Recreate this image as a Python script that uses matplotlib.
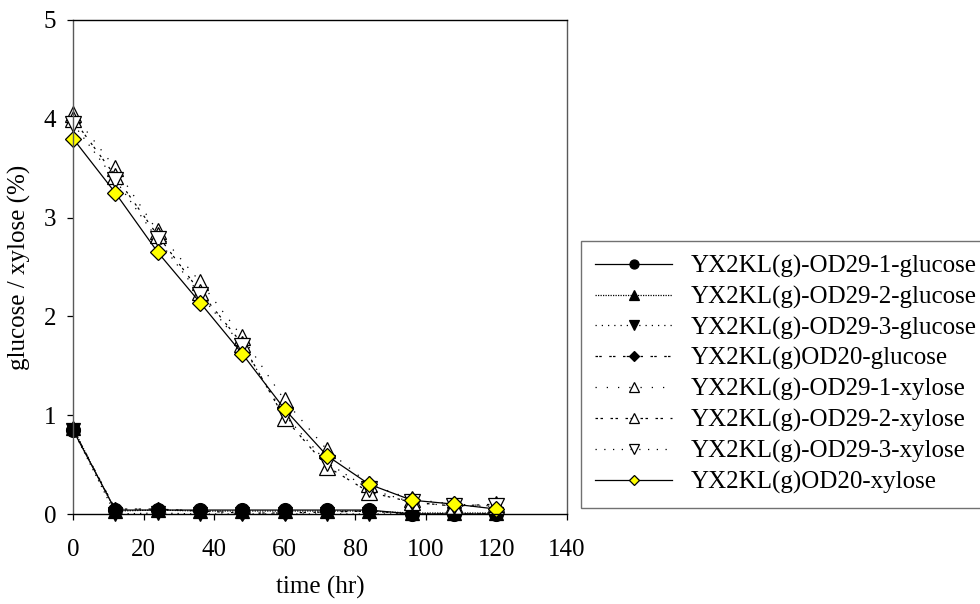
import matplotlib.pyplot as plt

plt.rcParams['font.family'] = ['Liberation Serif', 'DejaVu Serif']
plt.rcParams['font.size'] = 18

# sampling times (hr)
time_hr = [0, 12, 24, 36, 48, 60, 72, 84, 96, 108, 120]

# glucose (%)
od29_1_glucose = [0.85, 0.04, 0.04, 0.04, 0.04, 0.04, 0.04, 0.04, 0.00, 0.00, 0.00]
od29_2_glucose = [0.87, 0.03, 0.04, 0.03, 0.03, 0.03, 0.03, 0.03, 0.01, 0.01, 0.01]
od29_3_glucose = [0.85, 0.00, 0.01, 0.00, 0.00, 0.00, 0.00, 0.00, 0.00, 0.00, 0.00]
od20_glucose = [0.86, 0.05, 0.05, 0.03, 0.01, 0.01, 0.02, 0.03, 0.00, 0.00, 0.00]

# xylose (%)
od29_1_xylose = [4.05, 3.50, 2.86, 2.35, 1.79, 1.15, 0.65, 0.30, 0.15, 0.10, 0.08]
od29_2_xylose = [4.00, 3.42, 2.82, 2.25, 1.72, 0.97, 0.48, 0.22, 0.12, 0.08, 0.10]
od29_3_xylose = [3.95, 3.38, 2.78, 2.22, 1.70, 1.00, 0.52, 0.25, 0.12, 0.08, 0.08]
od20_xylose = [3.80, 3.25, 2.65, 2.14, 1.62, 1.06, 0.59, 0.30, 0.14, 0.10, 0.05]

series = [
    ('YX2KL(g)-OD29-1-glucose', od29_1_glucose, 'o', 'black', '-', 10),
    ('YX2KL(g)-OD29-2-glucose', od29_2_glucose, '^', 'black', (0, (1, 1)), 10),
    ('YX2KL(g)-OD29-3-glucose', od29_3_glucose, 'v', 'black', (0, (1, 4)), 10),
    ('YX2KL(g)OD20-glucose', od20_glucose, 'D', 'black', (0, (2, 1, 2, 6)), 7.2),
    ('YX2KL(g)-OD29-1-xylose', od29_1_xylose, '^', 'white', (0, (1, 8)), 11),
    ('YX2KL(g)-OD29-2-xylose', od29_2_xylose, '^', 'white', (0, (2, 2, 2, 6)), 11),
    ('YX2KL(g)-OD29-3-xylose', od29_3_xylose, 'v', 'white', (0, (1, 6)), 11),
    ('YX2KL(g)OD20-xylose', od20_xylose, 'D', '#ffff00', '-', 8.2),
]

fig = plt.figure(figsize=(9.8, 6.04), dpi=100)
ax = fig.add_axes([0.0745, 0.149, 0.504, 0.818])

for label, values, marker, face, ls, ms in series:
    ax.plot(time_hr, values, linestyle=ls, color='black', linewidth=0.9,
            marker=marker, markersize=ms, markerfacecolor=face,
            markeredgecolor='black', markeredgewidth=0.9,
            label=label, clip_on=False)

ax.set_xlim(0, 140)
ax.set_ylim(0, 5)
ax.set_xticks(range(0, 141, 20))
ax.set_yticks(range(0, 6))
ax.tick_params(direction='out', length=4, width=0.9)
ax.tick_params(axis='x', pad=14)
ax.tick_params(axis='y', pad=8)
for side in ['left', 'right']:
    ax.spines[side].set_color('0.35')
for side in ax.spines:
    ax.spines[side].set_linewidth(1.0)

ax.set_xlabel('time (hr)', labelpad=11)
ax.set_ylabel('glucose / xylose (%)', labelpad=9)

leg = fig.legend(loc='upper left', bbox_to_anchor=(581 / 980, 1 - 241 / 604),
                 frameon=True, fancybox=False, edgecolor='0.3',
                 markerscale=0.65, handlelength=3.1, handletextpad=0.75,
                 labelspacing=0.31, borderpad=0.55, borderaxespad=0)
leg.get_frame().set_linewidth(1.0)

fig.savefig('out.png', dpi=100)
